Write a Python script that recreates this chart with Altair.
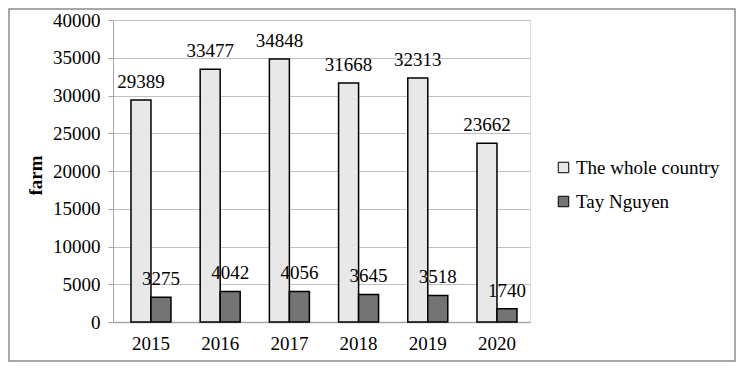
import altair as alt
import pandas as pd

years = ["2015", "2016", "2017", "2018", "2019", "2020"]
whole_country = [29389, 33477, 34848, 31668, 32313, 23662]
tay_nguyen = [3275, 4042, 4056, 3645, 3518, 1740]
series = ["The whole country", "Tay Nguyen"]
colors = ["#e8e8e8", "#747474"]

rows = []
for y, w, t in zip(years, whole_country, tay_nguyen):
    rows.append({"year": y, "series": series[0], "value": w})
    rows.append({"year": y, "series": series[1], "value": t})
df = pd.DataFrame(rows)

FONT = "Times New Roman, Liberation Serif, serif"
FS = 19
W, H = 417, 302
PL, PT, PR, PB = 105, 12, 206, 40

x_enc = alt.X("year:N", sort=years, title=None,
              scale=alt.Scale(paddingInner=0.422, paddingOuter=0.224, align=0.58),
              axis=alt.Axis(labelAngle=0, labelFont=FONT, labelFontSize=FS, labelColor="black",
                            ticks=False, labelPadding=12, domainColor="#a6a6a6",
                            domainWidth=1.5, grid=False))
xo_enc = alt.XOffset("series:N", sort=series, scale=alt.Scale(paddingInner=0, paddingOuter=0))
y_enc = alt.Y("value:Q",
              scale=alt.Scale(domain=[0, 40000], nice=False),
              axis=alt.Axis(values=list(range(0, 40001, 5000)), format="d", labelOverlap=False,
                            title="farm",
                            titleFont=FONT, titleFontSize=FS, titleFontWeight="bold",
                            titleColor="black", titleAngle=270, titleX=-78, titleY=155,
                            titleAlign="center", titleBaseline="middle",
                            labelFont=FONT, labelFontSize=FS, labelColor="black",
                            tickSize=5, tickColor="#a6a6a6", labelPadding=8,
                            domainColor="#a6a6a6", gridColor="#c0c0c0", gridWidth=1))

bars = alt.Chart(df).mark_bar(stroke="black", strokeWidth=1.5).encode(
    x=x_enc, xOffset=xo_enc, y=y_enc,
    color=alt.Color("series:N", sort=series,
                    scale=alt.Scale(domain=series, range=colors),
                    legend=alt.Legend(title=None, orient="none", legendX=441, legendY=138,
                                      symbolType="square", symbolSize=110,
                                      symbolStrokeColor="black", symbolStrokeWidth=1,
                                      labelFont=FONT, labelFontSize=FS, labelColor="black",
                                      rowPadding=14, labelOffset=3)),
)

labels = alt.Chart(df).mark_text(font=FONT, fontSize=FS, color="black", dy=-12,
                                 baseline="alphabetic", align="center").encode(
    x=x_enc, xOffset=xo_enc, y=y_enc,
    text=alt.Text("value:Q", format="d"),
)

border = alt.Chart(alt.Data(values=[{}])).mark_rect(
    fill=None, fillOpacity=0, stroke="#8c8c8c", strokeWidth=1.5).encode(
    x=alt.value(-PL + 1), x2=alt.value(W + PR - 1),
    y=alt.value(-PT + 1), y2=alt.value(H + PB - 1),
)

chart = alt.layer(bars, labels, border).properties(
    width=W, height=H,
    padding={"left": PL, "top": PT, "right": PR, "bottom": PB},
    autosize=alt.AutoSizeParams(type="none"),
).configure_view(stroke=None).configure(background="white", font=FONT)

chart.save("out.html", embed_options={"renderer": "svg", "actions": False})
